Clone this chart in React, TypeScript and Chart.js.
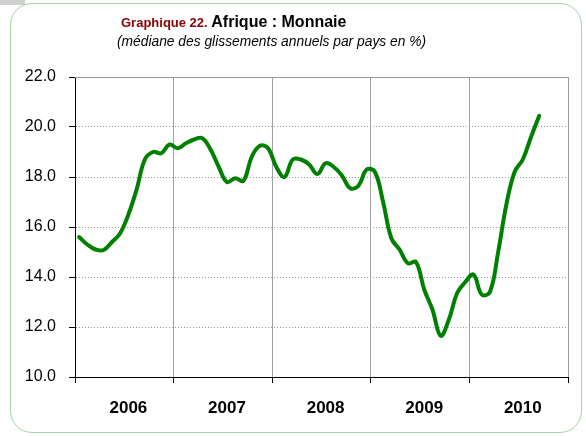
import React, { useEffect, useRef } from 'react';
import { Chart, registerables } from 'chart.js';

Chart.register(...registerables);

// Monthly values, Jan 2006 .. Sep 2010
const months2006 = [15.6, 15.3, 15.1, 15.08, 15.4, 15.75, 16.5, 17.5, 18.7, 19.0, 18.95, 19.3];
const months2007 = [19.15, 19.35, 19.5, 19.55, 19.1, 18.4, 17.8, 17.95, 17.85, 18.8, 19.25, 19.15];
const months2008 = [18.4, 18.0, 18.7, 18.7, 18.5, 18.12, 18.55, 18.4, 18.05, 17.55, 17.65, 18.3];
const months2009 = [18.2, 17.0, 15.55, 15.1, 14.55, 14.6, 13.5, 12.7, 11.65, 12.3, 13.35, 13.8];
const months2010 = [14.1, 13.3, 13.4, 15.0, 16.9, 18.2, 18.7, 19.6, 20.45];

const years = ['2006', '2007', '2008', '2009', '2010'];
const yMin = 10;
const yMax = 22;
const yStep = 2;

const values = [...months2006, ...months2007, ...months2008, ...months2009, ...months2010];

const framePlugin = {
  id: 'frameLines',
  beforeDatasetsDraw(chart: any) {
    const { ctx, chartArea } = chart;
    const { left, right, top, bottom } = chartArea;
    ctx.save();
    ctx.strokeStyle = '#9a9a9a';
    ctx.lineWidth = 1;
    ctx.setLineDash([]);
    ctx.beginPath();
    ctx.moveTo(left, Math.round(top) + 0.5);
    ctx.lineTo(Math.round(right) + 0.5, Math.round(top) + 0.5);
    ctx.lineTo(Math.round(right) + 0.5, bottom);
    ctx.stroke();
    ctx.restore();
  },
};

export default function App() {
  const canvasRef = useRef<HTMLCanvasElement | null>(null);

  useEffect(() => {
    document.body.style.margin = '0';
    const canvas = canvasRef.current;
    if (!canvas) return;
    Chart.defaults.font.family = '"Liberation Sans", Arial, sans-serif';
    const data = values.map((v, i) => ({ x: i + 0.5, y: v }));
    const chart = new Chart(canvas, {
      type: 'line',
      data: {
        datasets: [
          {
            data,
            borderColor: '#008000',
            borderWidth: 4,
            pointRadius: 0,
            tension: 0.4,
            borderCapStyle: 'round',
            borderJoinStyle: 'round',
            fill: false,
          },
        ],
      },
      options: {
        animation: false,
        responsive: false,
        devicePixelRatio: 1,
        layout: { padding: { top: 77, right: 18, bottom: 0, left: 0 } },
        plugins: { legend: { display: false }, tooltip: { enabled: false }, title: { display: false } },
        scales: {
          x: {
            type: 'linear',
            min: 0,
            max: years.length * 12,
            afterBuildTicks: (scale: any) => {
              const t: any[] = [];
              for (let i = 0; i <= years.length; i++) {
                t.push({ value: i * 12 });
                if (i < years.length) t.push({ value: i * 12 + 6.5 });
              }
              scale.ticks = t;
            },
            afterFit: (scale: any) => {
              scale.height = 59;
            },
            ticks: {
              autoSkip: false,
              maxRotation: 0,
              padding: 15,
              color: '#000',
              font: { family: '"Liberation Sans", Arial, sans-serif', size: 17, weight: 'bold' },
              callback: (v: any) => {
                const n = Number(v);
                if (n % 12 === 0) return '';
                return years[Math.floor(n / 12)];
              },
            },
            grid: {
              color: (c: any) => (c.tick && c.tick.value % 12 === 0 ? '#a0a0a0' : 'rgba(0,0,0,0)'),
              tickColor: (c: any) => (c.tick && c.tick.value % 12 === 0 ? '#000' : 'rgba(0,0,0,0)'),
              tickLength: 6,
              lineWidth: 1,
            },
            border: { display: true, color: '#000', width: 1 },
          },
          y: {
            min: yMin,
            max: yMax,
            afterFit: (scale: any) => {
              scale.width = 75;
            },
            ticks: {
              stepSize: yStep,
              padding: 13,
              color: '#000',
              font: { size: 16 },
              callback: (v: any) => Number(v).toFixed(1),
            },
            grid: {
              color: '#9a9a9a',
              tickColor: '#000',
              tickLength: 6,
              tickBorderDash: [],
              lineWidth: 1,
            },
            border: { display: true, color: '#000', width: 1, dash: [1, 2] },
          },
        },
      },
      plugins: [framePlugin],
    } as any);
    return () => chart.destroy();
  }, []);

  return (
    <div style={{ position: 'absolute', left: 0, top: 0, width: 586, height: 436, background: '#fff', overflow: 'hidden', fontFamily: '"Liberation Sans", Arial, sans-serif' }}>
      <div style={{ position: 'absolute', left: 0, top: 0, width: 25, height: 5, background: '#d0d0d0' }} />
      <div
        style={{
          position: 'absolute',
          left: 10,
          top: 3,
          width: 572,
          height: 430,
          border: '1px solid #a8d4a8',
          borderRadius: 22,
          boxSizing: 'border-box',
        }}
      />
      <canvas ref={canvasRef} width={586} height={436} style={{ position: 'absolute', left: 0, top: 0, width: 586, height: 436 }} />
      <div style={{ position: 'absolute', left: 121, top: 12, whiteSpace: 'nowrap', lineHeight: '20px' }}>
        <span style={{ color: '#8b0000', fontWeight: 'bold', fontSize: 13 }}>Graphique 22. </span>
        <span style={{ color: '#000', fontWeight: 'bold', fontSize: 16 }}>Afrique : Monnaie</span>
      </div>
      <div style={{ position: 'absolute', left: 117, top: 34, whiteSpace: 'nowrap', lineHeight: '16px', fontStyle: 'italic', fontSize: 13.8, color: '#000' }}>
        (médiane des glissements annuels par pays en %)
      </div>
    </div>
  );
}
